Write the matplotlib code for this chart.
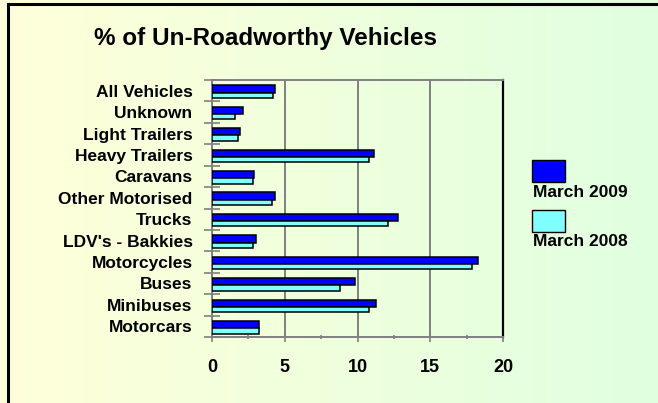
import numpy as np
import matplotlib
matplotlib.use("Agg")
import matplotlib.pyplot as plt
from matplotlib.patches import Rectangle
from matplotlib.lines import Line2D

plt.rcParams['font.family'] = ['Liberation Sans', 'DejaVu Sans']
plt.rcParams['font.weight'] = 'bold'

categories = ["All Vehicles", "Unknown", "Light Trailers", "Heavy Trailers",
              "Caravans", "Other Motorised", "Trucks", "LDV's - Bakkies",
              "Motorcycles", "Buses", "Minibuses", "Motorcars"]
march_2009 = [4.3, 2.1, 1.9, 11.1, 2.9, 4.3, 12.8, 3.0, 18.3, 9.8, 11.3, 3.2]
march_2008 = [4.2, 1.6, 1.8, 10.8, 2.8, 4.1, 12.1, 2.8, 17.9, 8.8, 10.8, 3.2]
x_ticks = [0, 5, 10, 15, 20]

fig = plt.figure(figsize=(6.58, 4.03), dpi=100)

# background gradient
bg = fig.add_axes([0, 0, 1, 1], zorder=-1)
c_left = np.array([255, 255, 218]) / 255
c_right = np.array([224, 255, 224]) / 255
t = np.linspace(0, 1, 256)[None, :, None]
grad = c_left * (1 - t) + c_right * t
bg.imshow(grad, aspect='auto', extent=[0, 1, 0, 1])
bg.set_xlim(0, 1)
bg.set_ylim(0, 1)
bg.axis('off')
bg.add_line(Line2D([8 / 658, 8 / 658], [0, 1 - 4 / 403], color='black', lw=2.2))
bg.add_line(Line2D([8 / 658, 1], [1 - 4 / 403, 1 - 4 / 403], color='black', lw=2.2))

ax = fig.add_axes([212 / 658, 1 - 337 / 403, 291 / 658, 257 / 403])
ax.patch.set_alpha(0)

y = np.arange(len(categories))
ax.barh(y - 0.25, march_2009, height=0.34, align='edge', color='#0000FF',
        edgecolor='black', linewidth=1.1, zorder=3)
ax.barh(y + 0.09, march_2008, height=0.25, align='edge', color='#80FFFF',
        edgecolor='black', linewidth=1.1, zorder=3)

ax.set_xlim(0, 20)
ax.set_ylim(len(categories) - 0.5, -0.5)
ax.set_xticks(x_ticks)
ax.set_xticks(np.arange(2.5, 20, 5), minor=True)
ax.set_xticklabels([str(v) for v in x_ticks], fontsize=13, fontweight='bold')
ax.set_yticks(y)
ax.set_yticklabels(categories, fontsize=12.5, fontweight='bold')
ax.set_yticks(np.arange(-0.5, len(categories), 1), minor=True)

ax.tick_params(axis='y', which='major', length=0, pad=14)
ax.tick_params(axis='y', which='minor', length=11, direction='inout', color='#808080', width=1.2)
ax.tick_params(axis='x', which='major', length=7, direction='inout', color='#808080', width=1.2, pad=12)
ax.tick_params(axis='x', which='minor', length=3.5, direction='inout', color='#808080', width=1.2)

ax.grid(axis='x', which='major', color='#808080', linewidth=1.4, zorder=0)
for side in ['left', 'top', 'bottom']:
    ax.spines[side].set_color('#808080')
    ax.spines[side].set_linewidth(1.4)
ax.spines['right'].set_color('black')
ax.spines['right'].set_linewidth(1.6)

fig.text(266 / 658, 1 - 38 / 403, "% of Un-Roadworthy Vehicles", ha='center', va='center',
         fontsize=17.5, fontweight='bold')

# legend
for top, col, lab, ty in [(160, '#0000FF', 'March 2009', 192), (210, '#80FFFF', 'March 2008', 241)]:
    fig.add_artist(Rectangle((532 / 658, 1 - (top + 22) / 403), 33 / 658, 22 / 403,
                             transform=fig.transFigure, facecolor=col, edgecolor='black', lw=1))
    fig.text(533 / 658, 1 - ty / 403, lab, ha='left', va='center', fontsize=12.5, fontweight='bold')

fig.savefig("out.png", dpi=100)
